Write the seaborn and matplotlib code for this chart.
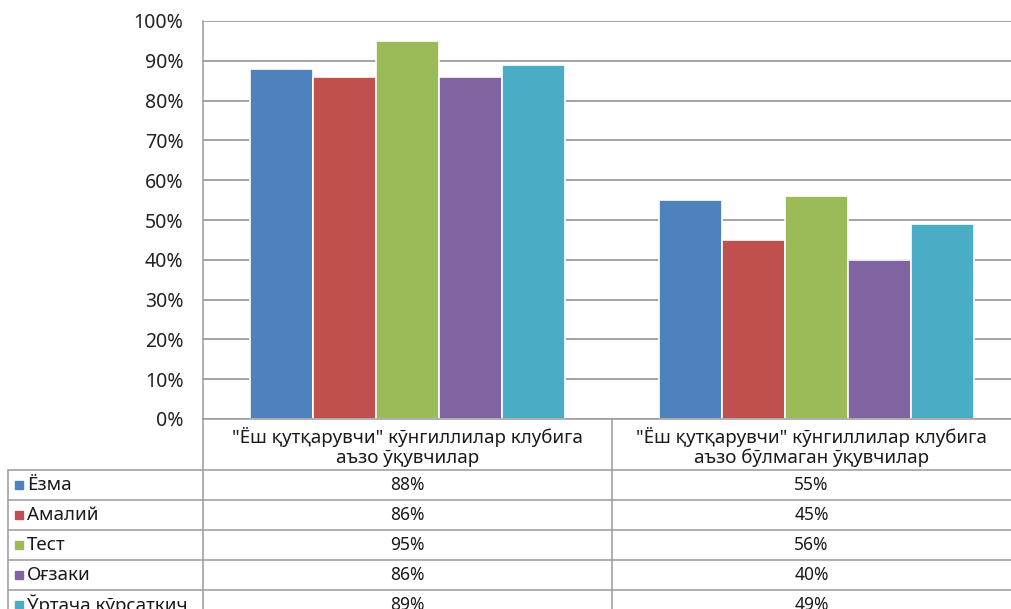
import numpy as np
import pandas as pd
import matplotlib
matplotlib.use('Agg')
import matplotlib.pyplot as plt
import matplotlib.patches as mpatches
from matplotlib.lines import Line2D
import seaborn as sns

# data
groups = ['"Ёш қутқарувчи" кўнгиллилар клубига\nаъзо ўқувчилар',
          '"Ёш қутқарувчи" кўнгиллилар клубига\nаъзо бўлмаган ўқувчилар']
series = ['Ёзма', 'Амалий', 'Тест', 'Оғзаки', 'Ўртача кўрсаткич']
member = [88, 86, 95, 86, 89]
non_member = [55, 45, 56, 40, 49]
colors = ['#4F81BD', '#C0504D', '#9BBB59', '#8064A2', '#4BACC6']
yticks = [0, 10, 20, 30, 40, 50, 60, 70, 80, 90, 100]

df = pd.DataFrame({
    'group': [groups[0]] * 5 + [groups[1]] * 5,
    'series': series * 2,
    'value': member + non_member,
})

sns.set_style('white')
plt.rcParams['font.family'] = ['Noto Sans', 'DejaVu Sans']

W, H = 1011, 609
fig = plt.figure(figsize=(W / 100, H / 100), dpi=100)

def fx(px):
    return px / W

def fy(py):
    return 1 - py / H

# plot area: 0% at y=419, 100% at y=21, category width ~409px
ax = fig.add_axes([fx(203), fy(419), fx(818), (419 - 21) / H])
sns.barplot(data=df, x='group', y='value', hue='series', hue_order=series,
            palette=colors, width=0.77, saturation=1, ax=ax,
            edgecolor='white', linewidth=1.2, legend=False, zorder=3)
ax.set_ylim(0, 100)
ax.set_xlim(-0.5, 1.5)
ax.set_yticks(yticks)
ax.set_yticklabels([f'{t}%' for t in yticks], fontsize=14, color='#222222')
ax.set_xticks([])
ax.set_xlabel('')
ax.set_ylabel('')
ax.yaxis.grid(True, color='#8a8a8a', linewidth=1.1)
ax.set_axisbelow(True)
for s in ['top', 'right', 'bottom']:
    ax.spines[s].set_visible(False)
ax.spines['left'].set_color('#9a9a9a')
ax.spines['left'].set_linewidth(1.1)
ax.tick_params(axis='y', length=0, pad=14)
ax.patch.set_alpha(0)

# data table under the chart
lc = '#9a9a9a'
txt = '#1a1a1a'
def hline(y, x0, x1):
    fig.add_artist(Line2D([fx(x0), fx(x1)], [fy(y), fy(y)], color=lc, lw=1.1))

def vline(x, y0, y1):
    fig.add_artist(Line2D([fx(x), fx(x)], [fy(y0), fy(y1)], color=lc, lw=1.1))

col_edges = [203, 612, 1011]
hline(419, 203, 1011)
row_top = 470
row_h = 30
for i in range(len(series) + 1):
    hline(row_top + i * row_h, 8, 1011)
vline(8, row_top, H)
vline(203, 419, H)
vline(612, 419, H)

for j, g in enumerate(groups):
    cx = (col_edges[j] + col_edges[j + 1]) / 2
    fig.text(fx(cx), fy(447), g, ha='center', va='center', fontsize=13.5,
             color=txt, linespacing=1.15)

values = [member, non_member]
for i, name in enumerate(series):
    cy = row_top + i * row_h + row_h / 2
    fig.add_artist(mpatches.Rectangle((fx(15), fy(cy + 4)), fx(8), 8 / H,
                                      color=colors[i], transform=fig.transFigure))
    fig.text(fx(27), fy(cy), name, ha='left', va='center', fontsize=13.5,
             color=txt)
    for j in range(2):
        cx = (col_edges[j] + col_edges[j + 1]) / 2
        fig.text(fx(cx), fy(cy), f'{values[j][i]}%', ha='center', va='center',
                 fontsize=12.5, color=txt)

fig.savefig('out.png', dpi=100)
